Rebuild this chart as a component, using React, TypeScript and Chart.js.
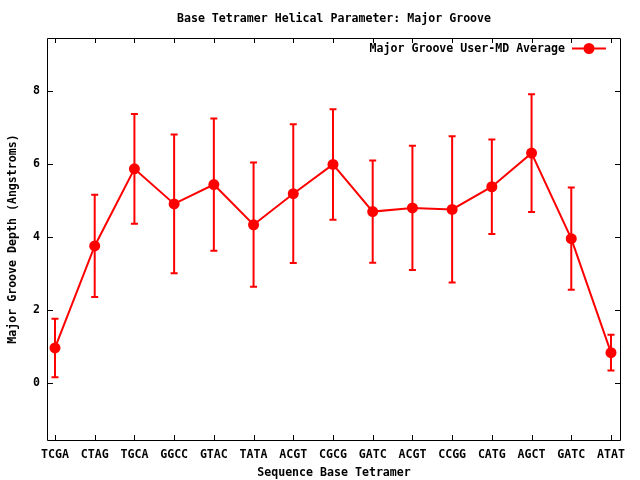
import React, { useEffect, useRef } from "react";
import { Chart, registerables } from "chart.js";

Chart.register(...registerables);

const categories = ["TCGA", "CTAG", "TGCA", "GGCC", "GTAC", "TATA", "ACGT", "CGCG", "GATC", "ACGT", "CCGG", "CATG", "AGCT", "GATC", "ATAT"];
const means = [0.97, 3.76, 5.87, 4.91, 5.44, 4.34, 5.19, 5.99, 4.70, 4.80, 4.76, 5.38, 6.30, 3.96, 0.84];
const errors = [0.80, 1.40, 1.50, 1.90, 1.81, 1.70, 1.90, 1.51, 1.40, 1.70, 2.00, 1.29, 1.61, 1.40, 0.49];
const yTicks = [0, 2, 4, 6, 8];
const seriesLabel = "Major Groove User-MD Average";
const titleText = "Base Tetramer Helical Parameter: Major Groove";
const xTitle = "Sequence Base Tetramer";
const yTitle = "Major Groove Depth (Angstroms)";

const RED = "rgb(255,0,0)";
const FAMILY = "'DejaVu Sans Mono', monospace";
const FSIZE = 11.6;
const FONT = `bold ${FSIZE}px ${FAMILY}`;

const errorBarPlugin = {
  id: "errorBars",
  beforeDatasetsDraw(chart: any) {
    const { ctx, scales, chartArea } = chart;
    const xs = scales.x;
    const ys = scales.y;
    ctx.save();
    ctx.beginPath();
    ctx.rect(chartArea.left, chartArea.top, chartArea.right - chartArea.left, chartArea.bottom - chartArea.top);
    ctx.clip();
    ctx.strokeStyle = RED;
    ctx.lineWidth = 2;
    means.forEach((m, i) => {
      const x = xs.getPixelForValue(i);
      const yt = ys.getPixelForValue(m + errors[i]);
      const yb = ys.getPixelForValue(m - errors[i]);
      ctx.beginPath();
      ctx.moveTo(x, yt);
      ctx.lineTo(x, yb);
      ctx.moveTo(x - 3.5, yt);
      ctx.lineTo(x + 3.5, yt);
      ctx.moveTo(x - 3.5, yb);
      ctx.lineTo(x + 3.5, yb);
      ctx.stroke();
    });
    ctx.restore();
  },
};

const framePlugin = {
  id: "frame",
  afterDraw(chart: any) {
    const { ctx, scales, chartArea } = chart;
    const { left, right, top, bottom } = chartArea;
    const tl = 5;
    ctx.save();
    ctx.strokeStyle = "#000";
    ctx.lineWidth = 1;
    ctx.beginPath();
    ctx.rect(Math.round(left) - 0.5, Math.round(top) + 0.5, Math.round(right - left) + 1, Math.round(bottom - top));
    scales.x.ticks.forEach((t: any) => {
      const x = Math.round(scales.x.getPixelForValue(t.value)) + 0.5;
      ctx.moveTo(x, bottom);
      ctx.lineTo(x, bottom - tl);
      ctx.moveTo(x, top);
      ctx.lineTo(x, top + tl);
    });
    scales.y.ticks.forEach((t: any) => {
      const y = Math.round(scales.y.getPixelForValue(t.value)) + 0.5;
      ctx.moveTo(left, y);
      ctx.lineTo(left + tl, y);
      ctx.moveTo(right, y);
      ctx.lineTo(right - tl, y);
    });
    ctx.stroke();

    // title
    ctx.fillStyle = "#000";
    ctx.font = FONT;
    ctx.textAlign = "center";
    ctx.textBaseline = "middle";
    ctx.fillText(titleText, (left + right) / 2, 19);

    // legend
    const ly = top + 10.5;
    const lineEnd = right - 14;
    const lineStart = lineEnd - 34;
    ctx.textAlign = "right";
    ctx.fillText(chart.data.datasets[0].label, lineStart - 7, ly + 0.5);
    ctx.strokeStyle = RED;
    ctx.lineWidth = 2;
    ctx.beginPath();
    ctx.moveTo(lineStart, ly);
    ctx.lineTo(lineEnd, ly);
    ctx.stroke();
    ctx.fillStyle = RED;
    ctx.beginPath();
    ctx.arc((lineStart + lineEnd) / 2, ly, 5.5, 0, Math.PI * 2);
    ctx.fill();
    ctx.restore();
  },
};

export default function App() {
  const ref = useRef<HTMLCanvasElement | null>(null);

  useEffect(() => {
    if (!ref.current) return;
    Chart.defaults.color = "#000";
    const font = { family: FAMILY, size: FSIZE, weight: "bold" as const };
    const chart = new Chart(ref.current, {
      type: "line",
      data: {
        datasets: [
          {
            label: seriesLabel,
            data: means.map((m, i) => ({ x: i, y: m })),
            borderColor: RED,
            backgroundColor: RED,
            borderWidth: 2,
            pointRadius: 5.5,
            pointBackgroundColor: RED,
            pointBorderWidth: 0,
            tension: 0,
          },
        ],
      },
      options: {
        animation: false,
        responsive: false,
        devicePixelRatio: 1,
        layout: { padding: { top: 38, right: 20, bottom: 0, left: 0 } },
        plugins: {
          legend: { display: false },
          title: { display: false },
          tooltip: { enabled: false },
        },
        scales: {
          x: {
            type: "linear",
            min: -0.176,
            max: 14.227,
            afterBuildTicks: (s: any) => {
              s.ticks = categories.map((_, i) => ({ value: i }));
            },
            afterFit: (s: any) => {
              s.height = 40;
            },
            grid: { display: false, drawTicks: false },
            border: { display: false },
            ticks: {
              autoSkip: false,
              maxRotation: 0,
              padding: 8.5,
              color: "#000",
              font,
              callback: (v: any) => categories[v as number],
            },
            title: { display: true, text: xTitle, color: "#000", font, padding: { top: 0, bottom: 0 } },
          },
          y: {
            type: "linear",
            min: -1.55,
            max: 9.45,
            afterBuildTicks: (s: any) => {
              s.ticks = yTicks.map((v) => ({ value: v }));
            },
            afterFit: (s: any) => {
              s.width = 48;
            },
            grid: { display: false, drawTicks: false },
            border: { display: false },
            ticks: { padding: 8, color: "#000", font, callback: (v: any) => String(v) },
            title: { display: true, text: yTitle, color: "#000", font, padding: { top: 6, bottom: 0 } },
          },
        },
      },
      plugins: [errorBarPlugin, framePlugin],
    });
    return () => chart.destroy();
  }, []);

  return (
    <div style={{ position: "fixed", left: 0, top: 0, width: 640, height: 480, background: "#fff" }}>
      <canvas ref={ref} width={640} height={480} style={{ display: "block" }} />
    </div>
  );
}
